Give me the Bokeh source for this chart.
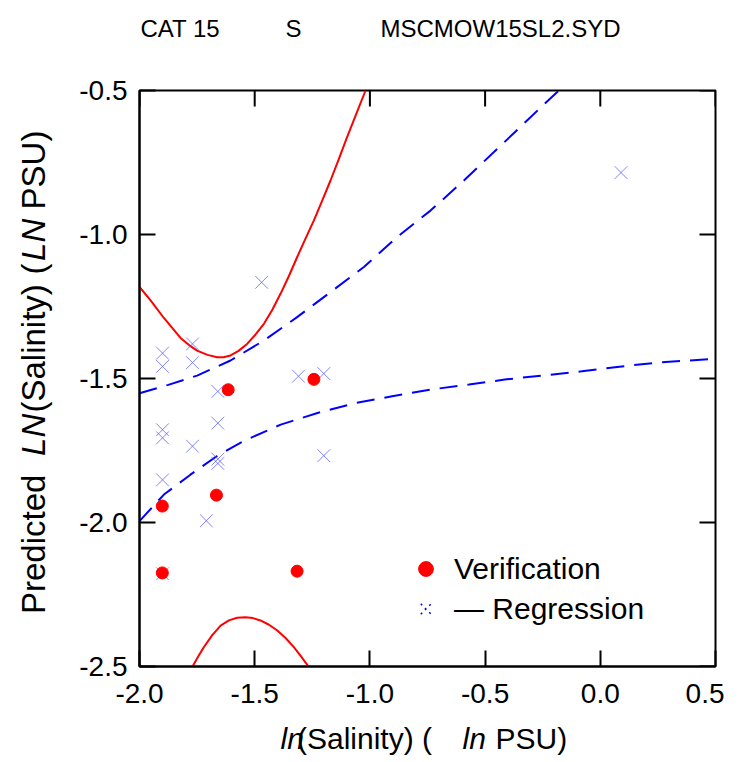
import math
from bokeh.plotting import figure
from bokeh.layouts import column, row
from bokeh.models import (LinearAxis, FixedTicker, Range1d, Label, Legend,
                          LegendItem, PrintfTickFormatter)
from bokeh.embed import file_html
from bokeh.resources import INLINE

FONT = "Liberation Sans"

# ---- ticks ----
x_ticks = [-2.0, -1.5, -1.0, -0.5, 0.0, 0.5]
y_ticks = [-2.5, -2.0, -1.5, -1.0, -0.5]

# ---- regression points (crosses) ----
reg_x = [-1.90, -1.90, -1.90, -1.90, -1.90, -1.90, -1.77, -1.77, -1.77,
         -1.71, -1.66, -1.66, -1.66, -1.66, -1.47, -1.31, -1.20, -1.20, 0.09]
reg_y = [-1.412, -1.458, -1.678, -1.706, -1.852, -2.178, -1.380, -1.445, -1.735,
         -1.994, -1.545, -1.655, -1.780, -1.795, -1.166, -1.492, -1.483, -1.768, -0.785]

# ---- verification points (red dots) ----
ver_x = [-1.615, -1.243, -1.901, -1.666, -1.901, -1.316]
ver_y = [-1.539, -1.503, -1.943, -1.905, -2.175, -2.169]

# ---- red solid curves ----
red_up_x = [-1.999, -1.952, -1.895, -1.822, -1.785, -1.750, -1.705, -1.663, -1.635,
            -1.605, -1.570, -1.533, -1.497, -1.460, -1.424, -1.388, -1.352, -1.316,
            -1.280, -1.243, -1.207, -1.171, -1.135, -1.099, -1.060, -1.019]
red_up_y = [-1.183, -1.229, -1.289, -1.359, -1.384, -1.403, -1.418, -1.426, -1.426,
            -1.420, -1.404, -1.380, -1.348, -1.310, -1.262, -1.206, -1.145, -1.079,
            -1.015, -0.951, -0.882, -0.8125, -0.738, -0.662, -0.583, -0.500]
red_lo_x = [-1.771, -1.746, -1.721, -1.685, -1.648, -1.612, -1.576, -1.540, -1.508,
            -1.475, -1.438, -1.402, -1.366, -1.330, -1.298, -1.265]
red_lo_y = [-2.502, -2.466, -2.433, -2.392, -2.358, -2.340, -2.331, -2.329, -2.332,
            -2.340, -2.355, -2.375, -2.401, -2.433, -2.466, -2.502]

# ---- blue dashed curves ----
dash_up_x = [-2.0, -1.875, -1.750, -1.605, -1.460, -1.316, -1.171, -1.026, -0.882,
             -0.737, -0.592, -0.447, -0.303, -0.230, -0.180]
dash_up_y = [-1.551, -1.522, -1.490, -1.4375, -1.368, -1.287, -1.200, -1.113, -1.009,
             -0.917, -0.8125, -0.7025, -0.593, -0.537, -0.500]
dash_lo_x = [-2.0, -1.894, -1.779, -1.665, -1.551, -1.387, -1.224, -1.060, -0.897,
             -0.733, -0.570, -0.407, -0.243, -0.080, 0.083, 0.247, 0.5]
dash_lo_y = [-1.995, -1.903, -1.834, -1.770, -1.718, -1.660, -1.619, -1.585, -1.561,
             -1.538, -1.521, -1.503, -1.489, -1.475, -1.459, -1.445, -1.431]

X0, X1 = -2.0, 0.5
Y0, Y1 = -2.5, -0.5

# ---------------- layout sizes (page pixels) ----------------
W = 724
TOP_H = 60          # title strip
LEFT_W = 70         # y-label strip
MAIN_H = 652
BOT_H = 46          # x-label strip


def text_fig(w, h):
    f = figure(width=w, height=h, x_range=Range1d(0, w), y_range=Range1d(h, 0),
               output_backend="svg", toolbar_location=None,
               x_axis_type=None, y_axis_type=None,
               min_border=0, min_border_left=0, min_border_right=0,
               min_border_top=0, min_border_bottom=0)
    f.grid.visible = False
    f.outline_line_color = None
    f.background_fill_color = "white"
    f.border_fill_color = "white"
    return f


def lab(f, x, y, text, size, style="normal", font=FONT, angle=0.0, align="left"):
    f.add_layout(Label(x=x, y=y, text=text, text_font=font, text_font_size=size,
                       text_font_style=style, text_align=align,
                       text_baseline="middle", angle=angle, text_color="black"))


# ---------------- title strip ----------------
tf = text_fig(W, TOP_H)
lab(tf, 140, 28, "CAT 15", "24px")
lab(tf, 285, 28, "S", "24px")
lab(tf, 380, 28, "MSCMOW15SL2.SYD", "24px")

# ---------------- y label strip (rotated, reading upwards; centred pieces) ----------------
lf = text_fig(LEFT_W, MAIN_H)
A = math.pi / 2
YS = "33px"
lab(lf, 33, 573.7 - TOP_H, "Predicted", YS, angle=A, align="center")
lab(lf, 33, 449.8 - TOP_H, "LN", YS, "italic", angle=A, align="center")
lab(lf, 33, 351.9 - TOP_H, "(Salinity)", YS, angle=A, align="center")
lab(lf, 33, 262.0 - TOP_H, "(", YS, angle=A, align="center")
lab(lf, 33, 229.0 - TOP_H, "LN", YS, "italic", angle=A, align="center")
lab(lf, 33, 150.0 - TOP_H, "PSU)", YS, angle=A, align="center")

# ---------------- x label strip ----------------
bf = text_fig(W, BOT_H)
YB = 738 - (TOP_H + MAIN_H)
lab(bf, 280, YB, "ln", "30px", "italic")
lab(bf, 296.5, YB, "(Salinity) (", "30px")
lab(bf, 462, YB, "ln", "30px", "italic")
lab(bf, 495, YB, "PSU)", "30px")

# ---------------- main plot ----------------
p = figure(width=W - LEFT_W, height=MAIN_H, x_range=Range1d(X0, X1), y_range=Range1d(Y0, Y1),
           output_backend="svg", toolbar_location=None,
           x_axis_type=None, y_axis_type=None,
           min_border_left=139 - LEFT_W, min_border_right=W - 715,
           min_border_top=90 - TOP_H, min_border_bottom=MAIN_H - 576 - (90 - TOP_H))
p.grid.visible = False
p.outline_line_color = "black"
p.outline_line_width = 2
p.background_fill_color = "white"
p.border_fill_color = "white"


def style_axis(ax, ticks):
    ax.ticker = FixedTicker(ticks=ticks)
    ax.formatter = PrintfTickFormatter(format="%.1f")
    ax.axis_line_color = "black"
    ax.axis_line_width = 2
    ax.major_tick_in = 16
    ax.major_tick_out = 0
    ax.major_tick_line_width = 2
    ax.major_tick_line_color = "black"
    ax.minor_tick_line_color = None
    ax.major_label_text_font = FONT
    ax.major_label_text_color = "black"
    ax.major_label_text_font_size = "28px"
    ax.axis_label = None


xb = LinearAxis(); style_axis(xb, x_ticks); xb.major_label_standoff = 17
yl = LinearAxis(); style_axis(yl, y_ticks); yl.major_label_standoff = 12
p.add_layout(xb, "below")
p.add_layout(yl, "left")

# inward ticks on top and right edges of the box
p.ray(x=x_ticks, y=[Y1] * len(x_ticks), length=16, length_units="screen",
      angle=-math.pi / 2, line_color="black", line_width=2)
p.ray(x=[X1] * len(y_ticks), y=y_ticks, length=16, length_units="screen",
      angle=math.pi, line_color="black", line_width=2)

# curves
p.line(red_up_x, red_up_y, line_color="#ff0000", line_width=2)
p.line(red_lo_x, red_lo_y, line_color="#ff0000", line_width=2)
p.line(dash_up_x, dash_up_y, line_color="#0000ff", line_width=2, line_dash="18 10")
p.line(dash_lo_x, dash_lo_y, line_color="#0000ff", line_width=2, line_dash="18 10")

# points
reg_r = p.scatter(reg_x, reg_y, marker="x", size=18, line_color="#5a5aff",
                  line_alpha=0.75, line_width=1)
ver_r = p.scatter(ver_x, ver_y, marker="circle", size=12, fill_color="#ff0000",
                  line_color="#ff0000")
leg_reg = p.scatter([float("nan")], [float("nan")], marker="x", size=14,
                    line_color="#0000ff", line_width=1.5, line_dash="dotted")

legend = Legend(items=[LegendItem(label="Verification", renderers=[ver_r]),
                       LegendItem(label="\u2014 Regression", renderers=[leg_reg])],
                location=(268, 39), glyph_width=37, glyph_height=37, spacing=3,
                label_standoff=10, padding=0, margin=0,
                label_text_font=FONT, label_text_font_size="30px",
                label_text_color="black", border_line_color=None,
                background_fill_alpha=0)
p.add_layout(legend)

layout = column(tf, row(lf, p), bf)
open("out.html", "w").write(file_html(layout, INLINE))
